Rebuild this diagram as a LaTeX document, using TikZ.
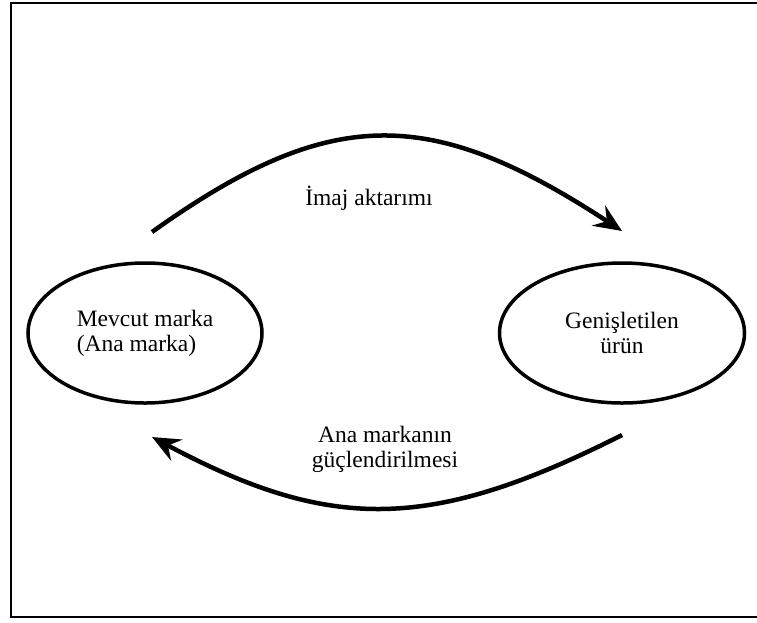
\documentclass[tikz,border=0pt]{standalone}
\usepackage{fontspec}
\setmainfont{Liberation Serif}
\usetikzlibrary{positioning,arrows.meta,shapes.geometric}
\tikzset{
  oval/.style={ellipse,draw,line width=3.5pt,minimum width=234pt,minimum height=140pt,inner sep=0pt,font=\fontsize{23.5}{25}\selectfont},
  etiket/.style={font=\fontsize{23.5}{25}\selectfont,align=center,inner sep=0pt},
  akis/.style={line width=4.5pt,-{Stealth[length=28pt,width=24pt,inset=10pt]}}
}
\begin{document}
\begin{tikzpicture}[x=1pt,y=-1pt]
\useasboundingbox (0,0) rectangle (757,622);
\draw[line width=2.5pt](757,3)--(11,3)--(11,617)--(757,617);
\node[oval,align=left](MARKA) at (145,333){Mevcut marka\\(Ana marka)};
\node[oval,align=center,minimum width=245pt,right of = MARKA,node distance=477pt](URUN){Genişletilen\\ürün};
\node[etiket,anchor=base](IMAJ) at (369,205){İmaj aktarımı};
\node[etiket](GUCLU) at (385,449){Ana markanın\\güçlendirilmesi};
\coordinate (IMAJ1) at (152,232);
\coordinate (IMAJ2) at (622,231);
\coordinate (GUCLU1) at (622,435);
\coordinate (GUCLU2) at (152,437);
\draw[akis](IMAJ1) .. controls (330,105) and (430,105) .. (IMAJ2);
\draw[akis](GUCLU1) .. controls (430,532) and (330,532) .. (GUCLU2);
\end{tikzpicture}
\end{document}
